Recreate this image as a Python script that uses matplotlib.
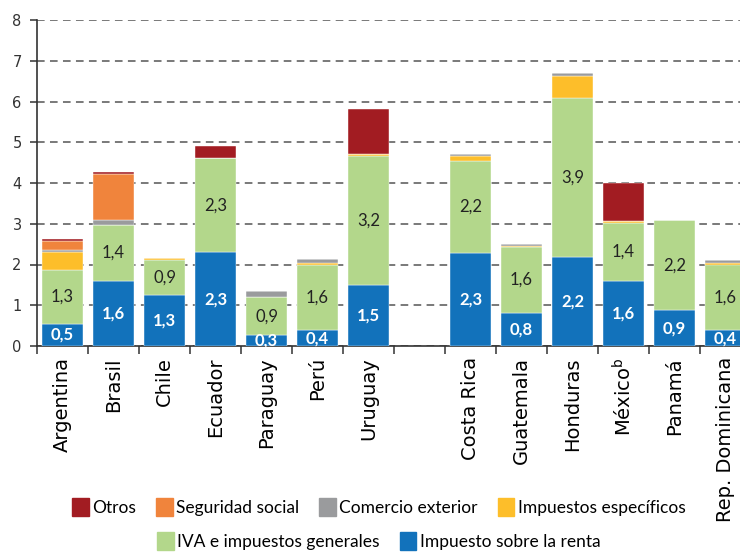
import numpy as np
import matplotlib
matplotlib.use("Agg")
import matplotlib.pyplot as plt
from matplotlib.patches import Patch

# Datos (porcentajes del PIB)
paises = ["Argentina", "Brasil", "Chile", "Ecuador", "Paraguay", "Perú", "Uruguay",
          "Costa Rica", "Guatemala", "Honduras", r"México$^{\mathrm{b}}$", "Panamá",
          "Rep. Dominicana"]
renta = [0.54, 1.60, 1.26, 2.30, 0.26, 0.39, 1.50, 2.29, 0.81, 2.18, 1.60, 0.88, 0.39]
iva = [1.33, 1.36, 0.86, 2.31, 0.94, 1.60, 3.17, 2.24, 1.62, 3.91, 1.43, 2.20, 1.61]
especificos = [0.44, 0.00, 0.03, 0.00, 0.00, 0.05, 0.05, 0.13, 0.02, 0.54, 0.04, 0.00, 0.04]
comercio = [0.05, 0.12, 0.00, 0.00, 0.16, 0.09, 0.00, 0.06, 0.05, 0.06, 0.00, 0.00, 0.08]
seguridad = [0.22, 1.13, 0.00, 0.00, 0.00, 0.00, 0.00, 0.00, 0.00, 0.00, 0.00, 0.00, 0.00]
otros = [0.05, 0.06, 0.00, 0.30, 0.00, 0.00, 1.10, 0.00, 0.00, 0.00, 0.92, 0.00, 0.00]

colores = {
    "renta": "#1272BB",
    "iva": "#B3D78B",
    "especificos": "#FDBE2A",
    "comercio": "#9A9B9D",
    "seguridad": "#F0843C",
    "otros": "#A21C22",
}

# posiciones: 7 paises de America del Sur, un hueco, 6 de Centroamerica
x = np.r_[np.arange(7), np.arange(8, 14)]

fig = plt.figure(figsize=(7.4, 5.52), dpi=100)
ax = fig.add_axes([37 / 740, 206 / 552, 714 / 740, 326 / 552])

series = [(renta, "renta"), (iva, "iva"), (especificos, "especificos"),
          (comercio, "comercio"), (seguridad, "seguridad"), (otros, "otros")]
base = np.zeros(len(paises))
for valores, clave in series:
    v = np.array(valores)
    ax.bar(x, v, bottom=base, width=0.8, color=colores[clave],
           edgecolor="white", linewidth=0.3, zorder=3)
    base = base + v

# etiquetas de valores
for xi, r, i in zip(x, renta, iva):
    ax.text(xi, r / 2, f"{r:.1f}".replace(".", ","), ha="center", va="center",
            color="white", fontsize=12, fontweight="bold", family="Lato", zorder=4)
    ax.text(xi, r + i / 2, f"{i:.1f}".replace(".", ","), ha="center", va="center",
            color="#222222", fontsize=12, family="Lato", zorder=4)

ax.set_xlim(-0.5, 13.5)
ax.set_ylim(0, 8)
ax.set_yticks(range(0, 9))
ax.yaxis.grid(True, linestyle=(0, (5, 3.5)), color="#555555", linewidth=1.1)
ax.set_axisbelow(True)

ax.set_xticks(x)
ax.set_xticklabels(paises, rotation=90, fontsize=14, va="top")
ax.tick_params(axis="x", which="major", length=0, pad=8)
ax.set_xticks(np.arange(-0.5, 14, 1), minor=True)
ax.tick_params(axis="x", which="minor", length=6, width=1.1, color="#333333")
ax.tick_params(axis="y", length=5, width=1.1, color="#333333", labelsize=10.5,
               labelcolor="#333333", pad=6)

for lado in ["top", "right"]:
    ax.spines[lado].set_visible(False)
for lado in ["left", "bottom"]:
    ax.spines[lado].set_color("#333333")
    ax.spines[lado].set_linewidth(1.2)

# leyenda en dos filas
fila1 = [Patch(color=colores["otros"], label="Otros"),
         Patch(color=colores["seguridad"], label="Seguridad social"),
         Patch(color=colores["comercio"], label="Comercio exterior"),
         Patch(color=colores["especificos"], label="Impuestos específicos")]
fila2 = [Patch(color=colores["iva"], label="IVA e impuestos generales"),
         Patch(color=colores["renta"], label="Impuesto sobre la renta")]
opciones = dict(frameon=False, handlelength=0.95, handleheight=1.2,
                handletextpad=0.2, columnspacing=1.15, borderpad=0,
                prop={"family": "Lato", "size": 12.5})
fig.legend(handles=fila1, ncol=4, loc="center",
           bbox_to_anchor=(379 / 740, 45 / 552), **opciones)
fig.legend(handles=fila2, ncol=2, loc="center",
           bbox_to_anchor=(379 / 740, 11 / 552), **opciones)

fig.savefig("out.png", dpi=100)
